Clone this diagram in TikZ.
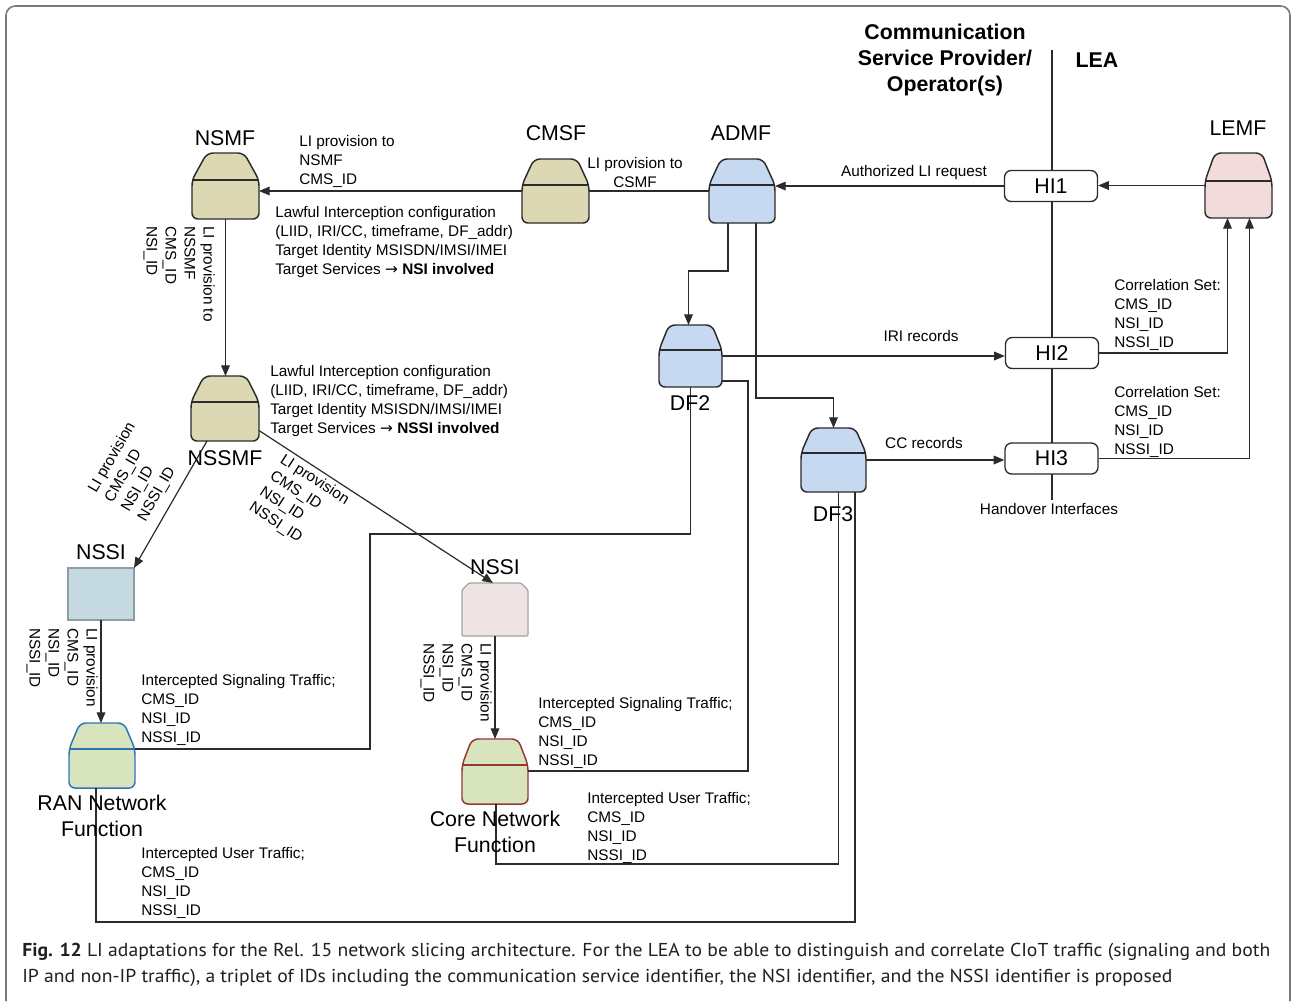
\documentclass[tikz,border=0pt]{standalone}
\usepackage{fontspec}
\usepackage{graphicx}
\setmainfont{Liberation Sans}
\newfontfamily\capfont{PT Sans}
\newfontfamily\arrfont{DejaVu Sans}
\usetikzlibrary{arrows.meta,calc}

\definecolor{linec}{HTML}{2B2B2B}
\definecolor{framec}{HTML}{7A7A7A}
\definecolor{tanfill}{HTML}{DCD8B3}
\definecolor{bluefill}{HTML}{C6D9F1}
\definecolor{pinkfill}{HTML}{F2DCDB}
\definecolor{nfgreen}{HTML}{D7E4BD}
\definecolor{ranedge}{HTML}{2E75B6}
\definecolor{coreedge}{HTML}{953735}
\definecolor{slicefill}{HTML}{C5D9E1}
\definecolor{sliceedge}{HTML}{8E9CA3}
\definecolor{corefill}{HTML}{EEE4E4}
\definecolor{coreslice}{HTML}{A9A1A1}
\definecolor{captext}{HTML}{231F20}

\newcommand\lblfont{\fontsize{16}{19.5}\selectfont}
\newcommand\txtfont{\fontsize{11.5}{14.25}\selectfont}
\newcommand\rarr{{\arrfont →}}

% function box: trapezoid top over a rounded body
% #1 node name, #2 height of the top part, #3 inset of the top edge, #4 style
\newcommand\fnshape[4]{%
  \draw[fnline,#4] ($(#1.north west)+(0,#2)$) -- ($(#1.north west)+(#3,0)$)
    -- ($(#1.north east)+(-#3,0)$) -- ($(#1.north east)+(0,#2)$)
    -- (#1.south east) -- (#1.south west) -- cycle;
  \draw[fnline,#4,fill=none] ($(#1.north west)+(0,#2)$) -- ($(#1.north east)+(0,#2)$);
}

\tikzset{
  fnbox/.style={draw=none, inner sep=0pt, outer sep=0pt, anchor=north west},
  fnsize/.style 2 args={minimum width=#1*0.75pt, minimum height=#2*0.75pt},
  fnline/.style={draw=linec, line width=1.1pt, rounded corners=4.5pt},
  conn/.style={draw=linec, line width=0.9pt},
  arr/.style={conn, -{Triangle[length=8pt,width=6.5pt]}},
  lbl/.style={font=\lblfont, inner sep=0pt},
  txt/.style={font=\txtfont, align=left, inner sep=0pt},
  hibox/.style={draw=linec, fill=white, line width=1pt, rounded corners=5pt,
    minimum width=93*0.75pt, minimum height=31*0.75pt, font=\lblfont, inner sep=0pt},
}

\begin{document}
\begin{tikzpicture}[x=0.75pt, y=-0.75pt]
\path[use as bounding box, fill=white] (0,0) rectangle (1292,1001);

% outer frame
\draw[framec, line width=1.2pt, rounded corners=7pt] (6,1001) -- (6,6) -- (1290,6) -- (1290,1001);

% provider / LEA boundary
\coordinate (divtop) at (1052,50);
\coordinate (divbot) at (1052,500);
\draw[conn] (divtop) -- (divbot);

% function nodes
\node[fnbox, fnsize={67}{66}] (nsmf)  at (192,153) {};
\node[fnbox, fnsize={67}{64}] (cmsf)  at (522,159) {};
\node[fnbox, fnsize={66}{64}] (admf)  at (709,159) {};
\node[fnbox, fnsize={67}{65}] (lemf)  at (1205,153) {};
\node[fnbox, fnsize={68}{65}] (nssmf) at (191,376) {};
\node[fnbox, fnsize={63}{62}] (df2)   at (659,325) {};
\node[fnbox, fnsize={65}{64}] (df3)   at (801,428) {};
\node[fnbox, fnsize={66}{52}] (rnssi) at (68,568) {};
\node[fnbox, fnsize={66}{53}] (cnssi) at (462,583) {};
\node[fnbox, fnsize={66}{65}] (rnf)   at (69,723) {};
\node[fnbox, fnsize={66}{65}] (cnf)   at (462,739) {};

\fnshape{nsmf}{27}{15}{fill=tanfill}
\fnshape{cmsf}{26}{12}{fill=tanfill}
\fnshape{admf}{26}{12}{fill=bluefill}
\fnshape{lemf}{28}{10}{fill=pinkfill}
\fnshape{nssmf}{26}{13}{fill=tanfill}
\fnshape{df2}{25}{10}{fill=bluefill}
\fnshape{df3}{25}{11}{fill=bluefill}
\fnshape{rnf}{26}{11}{fill=nfgreen, draw=ranedge}
\fnshape{cnf}{26}{10}{fill=nfgreen, draw=coreedge}

% network slice subnet instances
\draw[fill=slicefill, draw=sliceedge, line width=0.9pt] (rnssi.north west) rectangle (rnssi.south east);
\draw[fill=corefill, draw=coreslice, line width=0.9pt, rounded corners=1pt]
  (cnssi.south west) -- ($(cnssi.north west)+(0,7)$) -- ($(cnssi.north west)+(7,0)$)
  -- ($(cnssi.north east)+(-7,0)$) -- ($(cnssi.north east)+(0,7)$) -- (cnssi.south east) -- cycle;

% handover interfaces
\node[hibox] (hi1) at (1051,186) {HI1};
\node[hibox] (hi2) at (1052,353) {HI2};
\node[hibox] (hi3) at (1051.5,458.5) {HI3};

% provisioning chain
\draw[arr] (lemf.west) -- (lemf.west -| hi1.east);
\draw[arr] (hi1.west) -- (hi1.west -| admf.east);
\draw[conn] (admf.west) -- (admf.west -| cmsf.east);
\draw[arr] (cmsf.west) -- (cmsf.west -| nsmf.east);
\draw[arr] (nsmf.south) -- (nsmf.south |- nssmf.north);
\draw[arr] ($(nssmf.south west)+(16,0)$) -- (rnssi.north east);
\draw[arr] ($(nssmf.east)+(0,22)$) -- ($(cnssi.north)+(-2,0)$);
\draw[arr] (rnssi.south) -- (rnssi.south |- rnf.north);
\draw[arr] (cnssi.south) -- (cnf.north);

% ADMF to the delivery functions
\draw[arr] ($(admf.south)+(-14,0)$) -- ++(0,48) -| ($(df2.north)+(-2,0)$);
\draw[arr] ($(admf.south)+(14,0)$) -- ++(0,175) -| (df3.north);

% intercepted traffic towards the delivery functions
\coordinate (ranbus) at (370,534);
\draw[conn] ($(rnf.north west)!0.5!(rnf.north east)+(33,26)$) -| (ranbus) -| (df2.south);
\draw[conn] ($(rnf.south)+(-6,0)$) -- ++(0,134) -| ($(df3.south)+(21.5,0)$);
\draw[conn] ($(cnf.north east)+(0,32)$) -- ++(220,0) |- ($(df2.east)+(0,25)$);
\draw[conn] ($(cnf.south)+(1,0)$) -- ++(0,60) -| ($(df3.south)+(5,0)$);

% records to the handover interfaces and on to the LEMF
\draw[arr] (df2.east) -- (df2.east -| hi2.west);
\draw[arr] (df3.east) -- (df3.east -| hi3.west);
\draw[arr] (hi2.east) -| ($(lemf.south)+(-11,0)$);
\draw[arr] (hi3.east) -| ($(lemf.south)+(11,0)$);

% node titles
\node[lbl] (tnsmf)  at (225,138) {NSMF};
\node[lbl] (tcmsf)  at (556,133) {CMSF};
\node[lbl] (tadmf)  at (741,133) {ADMF};
\node[lbl] (tlemf)  at (1238,128) {LEMF};
\node[lbl] (tnssmf) at (225,458) {NSSMF};
\node[lbl] (trnssi) at (101,552) {NSSI};
\node[lbl] (tcnssi) at (495,567) {NSSI};
\node[lbl, align=center] (trnf) at (102,816) {RAN Network\\Function};
\node[lbl, align=center] (tcnf) at (495,832) {Core Network\\Function};
\node[lbl] (tdf2) at (690,403) {DF2};
\node[lbl] (tdf3) at (833,514) {DF3};
\node[lbl, font=\lblfont\bfseries, align=center] (csp) at (945,60) {Communication\\Service Provider/\\Operator(s)};
\node[lbl, font=\lblfont\bfseries] (lea) at (1097,60) {LEA};

% connector labels
\node[txt] (hoi) at (1049,509) {Handover Interfaces};
\node[txt] (ali) at (914,173) {Authorized LI request};
\node[txt] (iri) at (921,336) {IRI records};
\node[txt] (ccr) at (924,443) {CC records};
\node[txt, anchor=west] (cs2) at (1114,315) {Correlation Set:\\CMS\_ID\\NSI\_ID\\NSSI\_ID};
\node[txt, anchor=west] (cs3) at (1114,422) {Correlation Set:\\CMS\_ID\\NSI\_ID\\NSSI\_ID};
\node[txt, anchor=west] (lpn) at (299,161) {LI provision to\\NSMF\\CMS\_ID};
\node[txt, align=center] (lpc) at (635,173) {LI provision to\\CSMF};
\node[txt, anchor=west] (cfg1) at (275,242) {Lawful Interception configuration\\(LIID, IRI/CC, timeframe, DF\_addr)\\Target Identity MSISDN/IMSI/IMEI\\Target Services \rarr{} \textbf{NSI involved}};
\node[txt, anchor=west] (cfg2) at (270,401) {Lawful Interception configuration\\(LIID, IRI/CC, timeframe, DF\_addr)\\Target Identity MSISDN/IMSI/IMEI\\Target Services \rarr{} \textbf{NSSI involved}};
\node[txt, anchor=west] (rsig)  at (141,710) {Intercepted Signaling Traffic;\\CMS\_ID\\NSI\_ID\\NSSI\_ID};
\node[txt, anchor=west] (ruser) at (141,883) {Intercepted User Traffic;\\CMS\_ID\\NSI\_ID\\NSSI\_ID};
\node[txt, anchor=west] (csig)  at (538,733) {Intercepted Signaling Traffic;\\CMS\_ID\\NSI\_ID\\NSSI\_ID};
\node[txt, anchor=west] (cuser) at (587,828) {Intercepted User Traffic;\\CMS\_ID\\NSI\_ID\\NSSI\_ID};

% rotated provisioning labels
\node[txt, rotate=-90, anchor=north west] (lp1) at (215,226) {LI provision to\\NSSMF\\CMS\_ID\\NSI\_ID};
\node[txt, rotate=-90, anchor=north west] (lp2) at (98,628) {LI provision\\CMS\_ID\\NSI\_ID\\NSSI\_ID};
\node[txt, rotate=-90, anchor=north west] (lp3) at (492,643) {LI provision\\CMS\_ID\\NSI\_ID\\NSSI\_ID};
\node[txt, rotate=60] (lp4) at (137,472) {LI provision\\CMS\_ID\\NSI\_ID\\NSSI\_ID};
\node[txt, rotate=-33] (lp5) at (299,504) {LI provision\\CMS\_ID\\NSI\_ID\\NSSI\_ID};

% caption
\node[anchor=base west, inner sep=0pt, text=captext] (cap1) at (22,956)
  {\resizebox{936pt}{\height}{\capfont\fontsize{14}{16}\selectfont\textbf{Fig. 12} LI adaptations for the Rel. 15 network slicing architecture. For the LEA to be able to distinguish and correlate CIoT traffic (signaling and both}};
\node[anchor=base west, inner sep=0pt, text=captext] (cap2) at (22,982)
  {\resizebox{862.5pt}{\height}{\capfont\fontsize{14}{16}\selectfont IP and non-IP traffic), a triplet of IDs including the communication service identifier, the NSI identifier, and the NSSI identifier is proposed}};
\end{tikzpicture}
\end{document}
